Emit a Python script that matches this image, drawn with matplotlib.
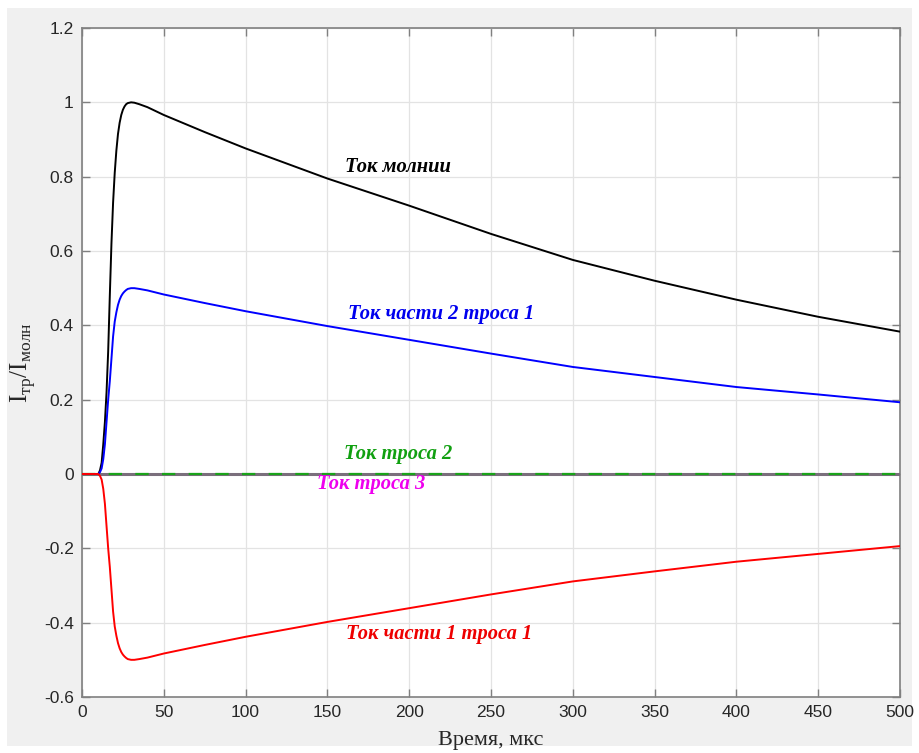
# -*- coding: utf-8 -*-

import matplotlib.pyplot as plt
from matplotlib.patches import Rectangle

# Токи (отн. ед.) по времени, мкс
t = [0, 8, 10, 11, 12, 13, 14, 15, 16, 17, 18, 19, 20, 21, 22, 23, 24, 25, 26,
     27, 28, 30, 32, 35, 40, 50, 75, 100, 150, 200, 250, 300, 350, 400, 450, 500]

i_molnii = [0, 0, 0.0, 0.01, 0.03, 0.08, 0.14, 0.22, 0.33, 0.48, 0.62, 0.73,
            0.81, 0.87, 0.915, 0.945, 0.966, 0.98, 0.989, 0.995, 0.998, 1.0,
            0.999, 0.995, 0.987, 0.966, 0.92, 0.876, 0.795, 0.722, 0.646,
            0.576, 0.52, 0.469, 0.423, 0.383]

i_chast2 = [0, 0, 0.0, 0.005, 0.015, 0.04, 0.08, 0.14, 0.2, 0.25, 0.31, 0.37,
            0.41, 0.435, 0.455, 0.469, 0.479, 0.486, 0.491, 0.495, 0.498, 0.5,
            0.5, 0.498, 0.494, 0.483, 0.46, 0.438, 0.398, 0.361, 0.324, 0.288,
            0.261, 0.234, 0.214, 0.193]

i_chast1 = [0, 0, 0.0, -0.005, -0.015, -0.04, -0.08, -0.14, -0.2, -0.25, -0.31,
            -0.37, -0.41, -0.435, -0.455, -0.469, -0.479, -0.486, -0.491, -0.495,
            -0.498, -0.5, -0.5, -0.498, -0.494, -0.483, -0.46, -0.438, -0.398,
            -0.361, -0.324, -0.289, -0.262, -0.236, -0.215, -0.194]

i_tros2 = [0.0 for _ in t]
i_tros3 = [0.0 for _ in t]

plt.rcParams['mathtext.fontset'] = 'custom'
plt.rcParams['mathtext.rm'] = 'Liberation Serif'

fig = plt.figure(figsize=(9.19, 7.53), dpi=100, facecolor='white')
fig.patches.append(Rectangle((7 / 919, 7 / 753), 905 / 919, 738 / 753,
                             transform=fig.transFigure, facecolor='#f0f0f0',
                             edgecolor='none', zorder=-10))

ax = fig.add_axes([82 / 919, 56 / 753, 818 / 919, 669 / 753])
ax.set_facecolor('white')

ax.plot(t, i_tros3, color='#7a6f7c', lw=2.2, zorder=3)
ax.plot(t, i_tros2, color='#1aa31a', lw=1.6, ls=(0, (6, 6)), zorder=4)
ax.plot(t, i_molnii, color='black', lw=1.4, zorder=5)
ax.plot(t, i_chast2, color='#0000ff', lw=1.4, zorder=5)
ax.plot(t, i_chast1, color='#ff0000', lw=1.4, zorder=5)

# Подписи кривых
tfont = dict(family='Liberation Serif', weight='bold', style='italic',
             fontsize=14.8, ha='center', va='center')
ax.text(193, 0.825, 'Ток молнии', color='black', **tfont)
ax.text(219.5, 0.431, 'Ток части 2 троса 1', color='#0000ee', **tfont)
ax.text(193, 0.054, 'Ток троса 2', color='#11a011', **tfont)
ax.text(177, -0.027, 'Ток троса 3', color='#ee00ee', **tfont)
ax.text(218, -0.431, 'Ток части 1 троса 1', color='#ee0000', **tfont)

ax.set_xlim(0, 500)
ax.set_ylim(-0.6, 1.2)
ax.set_xticks(range(0, 501, 50))
ax.set_yticks([-0.6, -0.4, -0.2, 0, 0.2, 0.4, 0.6, 0.8, 1, 1.2])
ax.set_yticklabels(['-0.6', '-0.4', '-0.2', '0', '0.2', '0.4', '0.6', '0.8', '1', '1.2'])

ax.grid(True, color='#e3e3e3', lw=0.9)
ax.set_axisbelow(True)
for s in ax.spines.values():
    s.set_color('#808080')
    s.set_linewidth(1.2)
ax.tick_params(direction='in', top=True, right=True, length=6, width=1,
               color='#808080', labelcolor='#262626', labelsize=12.5, pad=6)
for lbl in ax.get_xticklabels() + ax.get_yticklabels():
    lbl.set_family('Liberation Sans')

ax.set_xlabel('Время, мкс', family='Liberation Serif', fontsize=16,
              color='#262626', labelpad=8)
ax.set_ylabel(r'$\mathrm{I}_{\mathrm{тр}}/\mathrm{I}_{\mathrm{молн}}$',
              fontsize=18, color='#262626', labelpad=4)

plt.savefig('out.png', dpi=100, facecolor=fig.get_facecolor())
